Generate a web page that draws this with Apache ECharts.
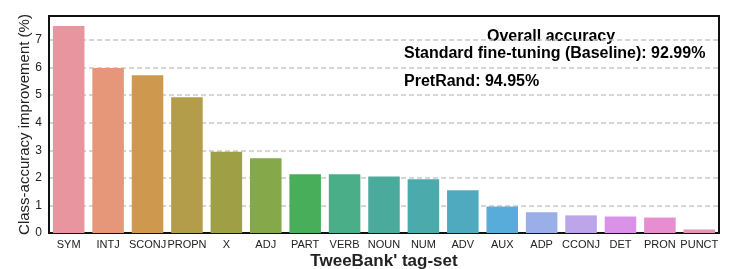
<!DOCTYPE html>
<html><head><meta charset="utf-8">
<script src="https://cdn.jsdelivr.net/npm/echarts@6/dist/echarts.min.js"></script>
<style>html,body{margin:0;padding:0;background:#fff}#c{width:742px;height:269px}</style>
</head><body><div id="c"></div>
<script>
const categories = ['SYM','INTJ','SCONJ','PROPN','X','ADJ','PART','VERB','NOUN','NUM','ADV','AUX','ADP','CCONJ','DET','PRON','PUNCT'];
const improvements = [7.51, 5.98, 5.72, 4.92, 2.95, 2.71, 2.13, 2.13, 2.05, 1.95, 1.55, 0.96, 0.75, 0.64, 0.60, 0.56, 0.13];
const barColors = ['#e8959f','#e6977a','#cf984f','#b39c4a','#9fa046','#84a84a','#49ae5a','#4aae88','#4aab9d','#4baaab','#50aabf','#57acda','#9aaee8','#bca5e9','#da92e9','#e68ed0','#e892b8'];
const yTicks = [0,1,2,3,4,5,6,7];
const annotationLines = ['Overall accuracy','Standard fine-tuning (Baseline): 92.99%','PretRand: 94.95%'];

const chart = echarts.init(document.getElementById('c'), null, {renderer:'canvas'});
const font = 'Liberation Sans, Arial, sans-serif';
chart.setOption({
  animation:false,
  backgroundColor:'#fff',
  grid:{left:49,right:23,top:16,bottom:36,outerBoundsMode:'none',containLabel:false,show:true,borderColor:'#111',borderWidth:2,backgroundColor:'transparent'},
  xAxis:{type:'category',data:categories,
    name:"TweeBank' tag-set",nameLocation:'middle',nameGap:20,nameMoveOverlap:false,
    nameTextStyle:{fontFamily:font,fontSize:17,color:'#222',fontWeight:'bold'},
    axisLine:{show:true,lineStyle:{color:'#111',width:2}},axisTick:{show:false},
    axisLabel:{fontFamily:font,fontSize:11,color:'#222',margin:6,interval:0}},
  yAxis:{type:'value',min:0,max:7.87,interval:1,
    name:'Class-accuracy improvement (%)',nameLocation:'middle',nameGap:17,nameMoveOverlap:false,
    nameTextStyle:{fontFamily:font,fontSize:15,color:'#222'},
    axisLine:{show:true,lineStyle:{color:'#111',width:2}},axisTick:{show:false},
    axisLabel:{fontFamily:font,fontSize:12,color:'#222',margin:7,
      formatter:v=>yTicks.includes(v)?String(v):''},
    splitLine:{show:true,showMaxLine:false,showMinLine:false,lineStyle:{color:'#c8c8c8',type:[5,3],width:1.5}}},
  series:[{type:'bar',data:improvements.map((v,i)=>({value:v,itemStyle:{color:barColors[i]}})),
    barCategoryGap:'20%'}],
  graphic:[
    {type:'text',left:487,top:29,style:{text:annotationLines[0],font:'bold 16px '+font,fill:'#000'}},
    {type:'text',left:404,top:46,style:{text:annotationLines[1],font:'bold 16px '+font,fill:'#000'}},
    {type:'text',left:404,top:74,style:{text:annotationLines[2],font:'bold 16px '+font,fill:'#000'}}
  ]
});
</script></body></html>
